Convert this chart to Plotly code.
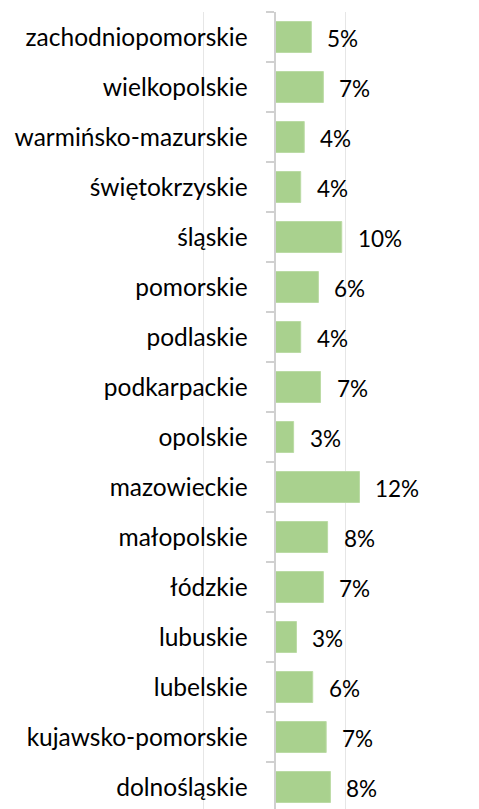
import plotly.graph_objects as go

categories = ["zachodniopomorskie", "wielkopolskie", "warmińsko-mazurskie", "świętokrzyskie",
              "śląskie", "pomorskie", "podlaskie", "podkarpackie", "opolskie", "mazowieckie",
              "małopolskie", "łódzkie", "lubuskie", "lubelskie", "kujawsko-pomorskie", "dolnośląskie"]
values = [0.052, 0.069, 0.042, 0.037, 0.095, 0.062, 0.037, 0.065, 0.027, 0.120,
          0.075, 0.069, 0.031, 0.054, 0.073, 0.079]
labels = ["5%", "7%", "4%", "4%", "10%", "6%", "4%", "7%", "3%", "12%",
          "8%", "7%", "3%", "6%", "7%", "8%"]

FONT = "Lato"
W, H = 479, 809
x0_px = 274.5
px_per = 7.08 / 0.01
xmin = -x0_px / px_per
xmax = (W - x0_px) / px_per

fig = go.Figure(go.Bar(
    y=categories, x=values, orientation="h",
    marker=dict(color="#A9D18E", line=dict(color="#BBDBA5", width=1)),
    width=0.62, hoverinfo="skip",
))

for c, v, t in zip(categories, values, labels):
    fig.add_annotation(x=v, y=c, text=t, showarrow=False, xanchor="left",
                       xshift=14, yshift=-1, font=dict(family=FONT, size=22.5, color="#000000"))

fig.update_layout(
    width=W, height=H, margin=dict(l=0, r=0, t=12, b=0),
    paper_bgcolor="white", plot_bgcolor="white", showlegend=False,
    xaxis=dict(range=[xmin, xmax], tickvals=[-0.1, 0.1], showticklabels=False,
               showgrid=True, gridcolor="#E6E6E6", gridwidth=1, zeroline=False,
               showline=False, ticks="", automargin=False),
    yaxis=dict(type="category", categoryorder="array", categoryarray=categories,
               range=[15.44, -0.5], anchor="free", position=x0_px / W, automargin=False,
               showline=True, linecolor="#D0D0D0", linewidth=2,
               ticks="outside", tickson="boundaries", ticklen=8, tickcolor="#D0D0D0",
               tickwidth=2, ticklabelstandoff=21, showgrid=False,
               tickfont=dict(family=FONT, size=24.5, color="#000000")),
)
fig.write_html("out.html", config={"displayModeBar": False},
               post_script="document.body.style.margin='0';document.body.style.overflow='hidden';")
